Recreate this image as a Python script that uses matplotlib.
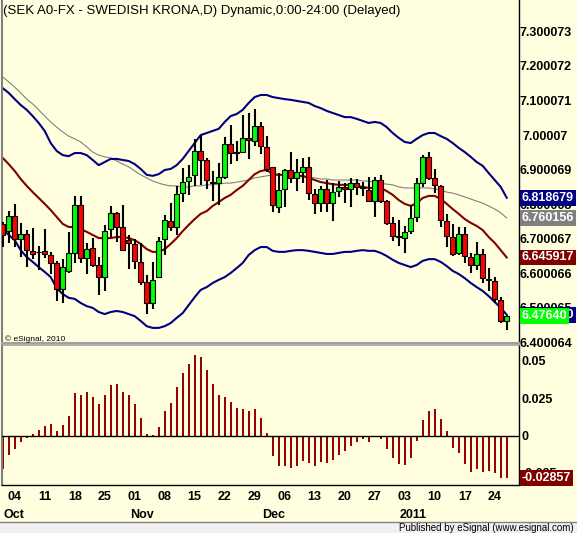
import numpy as np
import pandas as pd
import matplotlib
matplotlib.use('Agg')
import matplotlib.pyplot as plt
from matplotlib.patches import Rectangle
from matplotlib.lines import Line2D

plt.rcParams['font.family'] = ['Liberation Sans', 'DejaVu Sans']

W, H = 577, 533
BG = '#FFFFE0'

# ---- data: SEK A0-FX daily, 30 Sep 2010 .. 26 Jan 2011 ----------------
dates = pd.bdate_range('2010-09-30', periods=85)

opens = [6.743, 6.723, 6.766, 6.698, 6.714, 6.664, 6.663, 6.664, 6.653, 6.629,
         6.554, 6.608, 6.660, 6.798, 6.643, 6.672, 6.624, 6.588, 6.727, 6.774,
         6.733, 6.696, 6.685, 6.632, 6.574, 6.515, 6.590, 6.698, 6.752, 6.735,
         6.833, 6.867, 6.885, 6.954, 6.928, 6.864, 6.860, 6.880, 6.973, 6.951,
         6.952, 6.991, 6.984, 7.026, 6.965, 6.907, 6.793, 6.843, 6.899, 6.875,
         6.894, 6.907, 6.829, 6.803, 6.843, 6.804, 6.839, 6.849, 6.843, 6.860,
         6.849, 6.841, 6.810, 6.870, 6.809, 6.745, 6.709, 6.701, 6.721, 6.762,
         6.862, 6.936, 6.875, 6.853, 6.751, 6.706, 6.658, 6.714, 6.646, 6.624,
         6.656, 6.583, 6.579, 6.523, 6.462]
highs = [6.749, 6.781, 6.801, 6.745, 6.725, 6.730, 6.679, 6.728, 6.663, 6.637,
         6.640, 6.719, 6.824, 6.824, 6.687, 6.703, 6.648, 6.740, 6.795, 6.778,
         6.798, 6.711, 6.698, 6.689, 6.595, 6.634, 6.706, 6.769, 6.803, 6.853,
         6.904, 6.913, 6.988, 6.999, 6.933, 6.896, 6.918, 6.995, 7.029, 6.984,
         7.058, 7.065, 7.075, 7.039, 6.997, 6.909, 6.889, 6.901, 6.952, 6.930,
         6.933, 6.936, 6.843, 6.853, 6.870, 6.860, 6.868, 6.860, 6.877, 6.872,
         6.863, 6.878, 6.878, 6.885, 6.812, 6.764, 6.754, 6.737, 6.798, 6.877,
         6.942, 6.952, 6.901, 6.856, 6.772, 6.743, 6.733, 6.735, 6.660, 6.692,
         6.670, 6.614, 6.588, 6.530, 6.479]
lows = [6.677, 6.687, 6.677, 6.646, 6.619, 6.642, 6.610, 6.643, 6.598, 6.521,
        6.515, 6.602, 6.631, 6.631, 6.598, 6.619, 6.536, 6.550, 6.706, 6.692,
        6.665, 6.612, 6.612, 6.566, 6.482, 6.496, 6.585, 6.653, 6.723, 6.711,
        6.807, 6.827, 6.853, 6.856, 6.843, 6.810, 6.798, 6.872, 6.916, 6.926,
        6.947, 6.930, 6.968, 6.945, 6.894, 6.778, 6.775, 6.791, 6.862, 6.839,
        6.860, 6.812, 6.772, 6.778, 6.778, 6.752, 6.822, 6.803, 6.791, 6.827,
        6.824, 6.807, 6.762, 6.803, 6.740, 6.694, 6.679, 6.660, 6.714, 6.749,
        6.849, 6.870, 6.831, 6.733, 6.675, 6.650, 6.652, 6.631, 6.600, 6.610,
        6.573, 6.550, 6.513, 6.455, 6.436]
closes = [6.711, 6.766, 6.698, 6.713, 6.666, 6.655, 6.661, 6.655, 6.631, 6.554,
          6.619, 6.660, 6.798, 6.643, 6.671, 6.624, 6.588, 6.723, 6.774, 6.735,
          6.667, 6.687, 6.635, 6.576, 6.515, 6.581, 6.694, 6.754, 6.735, 6.829,
          6.863, 6.880, 6.954, 6.928, 6.870, 6.860, 6.878, 6.974, 6.947, 6.949,
          6.991, 6.986, 7.026, 6.967, 6.901, 6.798, 6.841, 6.899, 6.875, 6.892,
          6.907, 6.833, 6.803, 6.843, 6.804, 6.836, 6.849, 6.844, 6.860, 6.849,
          6.846, 6.810, 6.870, 6.810, 6.747, 6.709, 6.706, 6.719, 6.759, 6.860,
          6.938, 6.875, 6.856, 6.754, 6.708, 6.656, 6.714, 6.650, 6.624, 6.656,
          6.585, 6.581, 6.525, 6.463, 6.4764]

upper = [7.136, 7.122, 7.104, 7.087, 7.073, 7.055, 7.035, 7.012, 6.977, 6.954,
         6.942, 6.939, 6.948, 6.948, 6.942, 6.928, 6.913, 6.922, 6.931, 6.931,
         6.928, 6.925, 6.916, 6.902, 6.885, 6.882, 6.887, 6.899, 6.902, 6.913,
         6.931, 6.954, 6.977, 7.000, 7.006, 7.012, 7.018, 7.038, 7.055, 7.061,
         7.073, 7.093, 7.110, 7.116, 7.116, 7.110, 7.107, 7.104, 7.102, 7.099,
         7.096, 7.093, 7.084, 7.078, 7.070, 7.064, 7.058, 7.052, 7.052, 7.047,
         7.041, 7.035, 7.038, 7.035, 7.023, 7.006, 6.992, 6.980, 6.977, 6.989,
         7.000, 7.006, 7.006, 6.997, 6.989, 6.977, 6.963, 6.951, 6.937, 6.922,
         6.911, 6.890, 6.870, 6.850, 6.8187]
lower = [6.728, 6.711, 6.696, 6.667, 6.647, 6.633, 6.618, 6.604, 6.589, 6.557,
         6.540, 6.529, 6.526, 6.514, 6.505, 6.500, 6.488, 6.482, 6.488, 6.491,
         6.488, 6.482, 6.476, 6.462, 6.447, 6.442, 6.442, 6.447, 6.456, 6.471,
         6.485, 6.508, 6.531, 6.552, 6.560, 6.572, 6.581, 6.589, 6.601, 6.615,
         6.630, 6.653, 6.667, 6.676, 6.676, 6.665, 6.662, 6.662, 6.665, 6.667,
         6.667, 6.665, 6.662, 6.659, 6.656, 6.656, 6.659, 6.662, 6.662, 6.665,
         6.667, 6.665, 6.665, 6.659, 6.650, 6.639, 6.630, 6.624, 6.618, 6.624,
         6.636, 6.641, 6.641, 6.633, 6.621, 6.607, 6.598, 6.586, 6.572, 6.560,
         6.549, 6.534, 6.517, 6.500, 6.480]
ma_red = [6.934, 6.916, 6.896, 6.873, 6.853, 6.835, 6.818, 6.801, 6.783, 6.763,
          6.743, 6.734, 6.734, 6.728, 6.720, 6.711, 6.702, 6.702, 6.702, 6.705,
          6.705, 6.702, 6.696, 6.685, 6.670, 6.662, 6.662, 6.670, 6.685, 6.702,
          6.722, 6.740, 6.757, 6.772, 6.780, 6.795, 6.806, 6.818, 6.827, 6.841,
          6.853, 6.870, 6.887, 6.896, 6.899, 6.887, 6.885, 6.885, 6.882, 6.882,
          6.882, 6.876, 6.870, 6.864, 6.861, 6.858, 6.856, 6.856, 6.856, 6.853,
          6.850, 6.847, 6.847, 6.847, 6.838, 6.827, 6.812, 6.801, 6.795, 6.803,
          6.818, 6.824, 6.824, 6.815, 6.801, 6.786, 6.772, 6.757, 6.746, 6.737,
          6.725, 6.705, 6.688, 6.667, 6.6459]
ma_gray = [7.168, 7.154, 7.139, 7.122, 7.104, 7.090, 7.073, 7.055, 7.038, 7.023,
           7.009, 6.997, 6.989, 6.980, 6.966, 6.951, 6.942, 6.937, 6.934, 6.925,
           6.916, 6.908, 6.896, 6.885, 6.876, 6.867, 6.861, 6.856, 6.853, 6.853,
           6.850, 6.850, 6.853, 6.853, 6.856, 6.856, 6.858, 6.861, 6.861, 6.864,
           6.867, 6.870, 6.876, 6.879, 6.882, 6.885, 6.885, 6.885, 6.885, 6.882,
           6.879, 6.879, 6.876, 6.873, 6.873, 6.870, 6.870, 6.870, 6.870, 6.870,
           6.867, 6.867, 6.864, 6.861, 6.858, 6.856, 6.850, 6.847, 6.847, 6.847,
           6.847, 6.847, 6.844, 6.841, 6.835, 6.832, 6.827, 6.821, 6.815, 6.809,
           6.803, 6.795, 6.786, 6.775, 6.7602]
osc = [-0.0222, -0.0132, -0.0093, -0.0041, -0.0020, 0.0011, 0.0039, 0.0066, 0.0079, 0.0032,
       0.0073, 0.0134, 0.0283, 0.0270, 0.0293, 0.0256, 0.0209, 0.0270, 0.0338, 0.0345,
       0.0293, 0.0270, 0.0209, 0.0120, 0.0011, 0.0002, 0.0059, 0.0163, 0.0215, 0.0324,
       0.0422, 0.0481, 0.0542, 0.0528, 0.0440, 0.0345, 0.0270, 0.0261, 0.0224, 0.0186,
       0.0179, 0.0161, 0.0175, 0.0118, 0.0018, -0.0138, -0.0206, -0.0206, -0.0218, -0.0206,
       -0.0170, -0.0184, -0.0206, -0.0177, -0.0184, -0.0161, -0.0132, -0.0102, -0.0070, -0.0041,
       -0.0025, -0.0041, -0.0009, -0.0025, -0.0088, -0.0152, -0.0193, -0.0200, -0.0152, -0.0034,
       0.0102, 0.0163, 0.0181, 0.0113, 0.0027, -0.0086, -0.0116, -0.0193, -0.0245, -0.0227,
       -0.0245, -0.0238, -0.0252, -0.0286, -0.02857]

price_ticks = [7.300073, 7.200072, 7.100071, 7.00007, 6.900069,
               6.800068, 6.700067, 6.600066, 6.500065, 6.400064]
osc_ticks = [0.05, 0.025, 0, -0.025]
osc_tick_labels = ['0.05', '0.025', '0', '-0.025']

title = '(SEK A0-FX - SWEDISH KRONA,D) Dynamic,0:00-24:00 (Delayed)'

# ---- figure ------------------------------------------------------------
fig = plt.figure(figsize=(W / 100, H / 100), dpi=100, facecolor=BG)
ax = fig.add_axes([2 / W, 1 - 343 / H, 517 / W, 343 / H])
ax2 = fig.add_axes([2 / W, 1 - 485 / H, 517 / W, 140 / H], sharex=ax)

x = np.arange(len(dates))
o, h, l, c = map(np.asarray, (opens, highs, lows, closes))

for a in (ax, ax2):
    a.set_facecolor(BG)
    a.spines['top'].set_visible(False)
    a.spines['left'].set_color('#808080'); a.spines['left'].set_linewidth(1.5)
    a.spines['right'].set_color('black'); a.spines['right'].set_linewidth(1.0)
    a.yaxis.tick_right()
ax.spines['bottom'].set_color('#A0A0A0'); ax.spines['bottom'].set_linewidth(1.5)
ax2.spines['top'].set_visible(True)
ax2.spines['top'].set_color('#A0A0A0'); ax2.spines['top'].set_linewidth(1.2)
ax2.spines['bottom'].set_color('black'); ax2.spines['bottom'].set_linewidth(1.0)

# bands + averages
ax.plot(x, ma_gray, color='#808080', lw=0.8, zorder=2)
ax.plot(x, ma_red, color='#800000', lw=1.5, zorder=2)
ax.plot(x, upper, color='#000080', lw=1.5, zorder=2)
ax.plot(x, lower, color='#000080', lw=1.5, zorder=2)

# candles
ax.vlines(x, l, h, color='black', lw=1.5, zorder=3)
body_col = np.where(c >= o, '#00FF00', '#FF0000')
ax.bar(x, np.abs(c - o), bottom=np.minimum(o, c), width=0.76,
       color=body_col, edgecolor='black', linewidth=0.8, zorder=4)

ax.set_xlim(-0.117, 86.05)
ax.set_ylim(6.3983, 7.3909)
ax.set_yticks(price_ticks)
ax.set_yticklabels([str(v) for v in price_ticks])
ax.tick_params(axis='y', length=0, pad=19, labelsize=9)
for lab in ax.get_yticklabels():
    lab.set_ha('center'); lab.set_fontweight('bold')
ax.tick_params(axis='x', length=0, labelbottom=False)

ax.text(3 / 517, 4 / 343, '\u00a9 eSignal, 2010', transform=ax.transAxes,
        fontsize=6, va='center', ha='left')

# oscillator
ax2.bar(x, osc, width=0.33, color='#990000', zorder=2)
ax2.axhline(0, color='black', lw=1.0, zorder=3)
ax2.set_ylim(-0.0332, 0.0607)
ax2.set_yticks(osc_ticks)
ax2.set_yticklabels(osc_tick_labels)
ax2.tick_params(axis='y', length=0, pad=1.5, labelsize=9)
for lab in ax2.get_yticklabels():
    lab.set_fontweight('bold')

# date axis: mondays labelled with day, month names under first trading day
mondays = [i for i, d in enumerate(dates) if d.weekday() == 0]
ax2.set_xticks(mondays)
ax2.set_xticklabels([f'{dates[i].day:02d}' for i in mondays], fontweight='bold')
ax2.tick_params(axis='x', length=0, pad=4, labelsize=9)
for i in range(1, len(dates)):
    if dates[i].month != dates[i - 1].month:
        name = str(dates[i].year) if dates[i].month == 1 else dates[i].strftime('%b')
        ax2.text(i - 0.8, -0.215, name, transform=ax2.get_xaxis_transform(),
                 ha='left', va='center', fontsize=9, fontweight='bold')

# last-value tags on the right scale
def tag(a, val, text, col):
    a.annotate(text, xy=(1, val), xycoords=('axes fraction', 'data'),
               xytext=(2, 0), textcoords='offset points', ha='left', va='center',
               fontsize=9, fontweight='bold', color='white', annotation_clip=False,
               bbox=dict(boxstyle='square,pad=0.15', fc=col, ec='none'), zorder=10)

tag(ax, upper[-1], '6.818679', '#000080')
tag(ax, ma_gray[-1], '6.760156', '#808080')
tag(ax, ma_red[-1], '6.645917', '#800000')
tag(ax, lower[-1], f'{lower[-1]:.6f}', '#000080')
tag(ax, closes[-1], '6.47640', '#00FF00')
tag(ax2, osc[-1], '-0.02857', '#800000')

fig.text(3 / W, 1 - 11 / H, title, fontsize=9.5, ha='left', va='center')

# footer strip
fig.patches.append(Rectangle((0, 0), 1, 11 / H, transform=fig.transFigure,
                             facecolor='#F0F0F0', edgecolor='none', zorder=0))
fig.lines.append(Line2D([0, 1], [11 / H, 11 / H], transform=fig.transFigure,
                        color='#808080', lw=1.0))
fig.text(574 / W, 5 / H, 'Published by eSignal (www.esignal.com)', fontsize=7,
         ha='right', va='center')

fig.savefig('out.png', dpi=100, facecolor=BG)
